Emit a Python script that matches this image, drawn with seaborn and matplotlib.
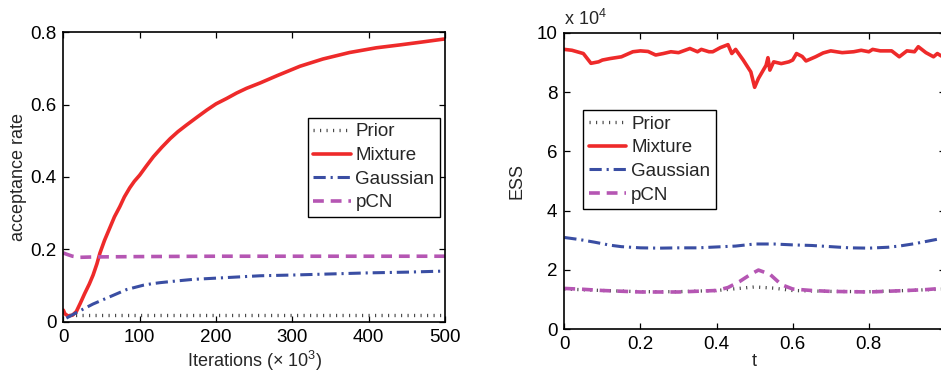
import numpy as np
import pandas as pd
import matplotlib
matplotlib.use("Agg")
import matplotlib.pyplot as plt
import seaborn as sns

# ---------------- data: left panel (acceptance rate) ----------------
iters_mix = [0, 2, 6, 12, 17, 22, 28, 34, 39, 44, 48, 54, 61, 67, 74, 80, 87, 93, 100, 109, 118, 129, 140,
             150, 161, 175, 188, 200, 214, 227, 240, 258, 280, 310, 340, 375, 410, 441, 470, 498, 500]
acc_mix = [0.032, 0.022, 0.016, 0.018, 0.028, 0.05, 0.078, 0.104, 0.129, 0.16, 0.19, 0.225, 0.26, 0.29, 0.318,
           0.345, 0.37, 0.388, 0.405, 0.431, 0.456, 0.482, 0.506, 0.525, 0.543, 0.565, 0.585, 0.602, 0.617,
           0.632, 0.645, 0.66, 0.68, 0.706, 0.726, 0.744, 0.757, 0.765, 0.773, 0.781, 0.781]

iters_gau = [4, 17, 28, 39, 50, 61, 72, 83, 94, 105, 116, 127, 150, 170, 214, 258, 300, 350, 400, 450, 500]
acc_gau = [0.01, 0.025, 0.037, 0.049, 0.059, 0.069, 0.079, 0.089, 0.095, 0.101, 0.105, 0.108, 0.113, 0.117,
           0.122, 0.127, 0.129, 0.132, 0.135, 0.137, 0.14]

iters_pcn = [0, 5, 12, 22, 40, 100, 200, 300, 400, 500]
acc_pcn = [0.19, 0.186, 0.181, 0.178, 0.179, 0.18, 0.181, 0.181, 0.181, 0.181]

iters_pri = [8, 100, 200, 300, 400, 500]
acc_pri = [0.018, 0.018, 0.018, 0.018, 0.018, 0.018]

# ---------------- data: right panel (ESS, x 10^4) ----------------
t_mix = [0.0, 0.02, 0.05, 0.07, 0.09, 0.10, 0.12, 0.15, 0.18, 0.20, 0.22, 0.24, 0.26, 0.28, 0.30,
         0.33, 0.35, 0.36, 0.38, 0.39, 0.41, 0.43, 0.44, 0.45, 0.47, 0.49, 0.50, 0.51, 0.53, 0.535,
         0.54, 0.55, 0.57, 0.59, 0.60, 0.61, 0.625, 0.635, 0.66, 0.68, 0.70, 0.73, 0.76, 0.78, 0.80,
         0.81, 0.83, 0.86, 0.88, 0.90, 0.92, 0.93, 0.95, 0.97, 0.98, 0.99, 1.0]
ess_mix = [9.44, 9.41, 9.30, 8.97, 9.02, 9.08, 9.13, 9.19, 9.36, 9.39, 9.37, 9.25, 9.30, 9.36, 9.33,
           9.47, 9.36, 9.44, 9.36, 9.36, 9.50, 9.60, 9.30, 9.44, 9.08, 8.68, 8.16, 8.46, 8.90, 9.16,
           8.74, 9.02, 8.96, 9.02, 9.08, 9.30, 9.20, 9.05, 9.19, 9.32, 9.39, 9.33, 9.36, 9.41, 9.36,
           9.44, 9.39, 9.39, 9.19, 9.39, 9.36, 9.53, 9.33, 9.19, 9.30, 9.22, 9.25]

t_gau = [0.0, 0.04, 0.08, 0.12, 0.15, 0.20, 0.25, 0.30, 0.35, 0.40, 0.45, 0.50, 0.55, 0.60, 0.65, 0.70, 0.75, 0.80, 0.85, 0.88, 0.92, 0.96, 1.0]
ess_gau = [3.09, 3.02, 2.93, 2.83, 2.78, 2.74, 2.73, 2.74, 2.74, 2.77, 2.80, 2.87, 2.87, 2.84, 2.82, 2.78, 2.74, 2.73, 2.76, 2.80, 2.88, 2.98, 3.08]

t_pcn = [0.0, 0.05, 0.10, 0.20, 0.30, 0.40, 0.43, 0.46, 0.49, 0.51, 0.54, 0.57, 0.60, 0.65, 0.70, 0.80, 0.90, 0.95, 1.0]
ess_pcn = [1.37, 1.34, 1.30, 1.25, 1.25, 1.30, 1.40, 1.60, 1.85, 1.99, 1.85, 1.50, 1.35, 1.30, 1.27, 1.25, 1.30, 1.33, 1.38]

t_pri = [0.0, 0.1, 0.2, 0.3, 0.4, 0.45, 0.5, 0.55, 0.6, 0.7, 0.8, 0.9, 1.0]
ess_pri = [1.35, 1.30, 1.26, 1.26, 1.30, 1.36, 1.42, 1.38, 1.30, 1.27, 1.26, 1.30, 1.35]

labels = ["Prior", "Mixture", "Gaussian", "pCN"]
colors = {"Prior": "#4a4a4a", "Mixture": "#ee2a2a", "Gaussian": "#3a4ea3", "pCN": "#b556b3"}
styles = {"Prior": (0, (0.35, 1.6)), "Mixture": "-", "Gaussian": (0, (4, 1.6, 0.7, 1.6)), "pCN": (0, (3.0, 1.9))}
widths = {"Prior": 2.4, "Mixture": 2.6, "Gaussian": 2.2, "pCN": 2.6}

sns.set_style("white")
plt.rcParams["font.family"] = ["Liberation Sans", "DejaVu Sans"]
plt.rcParams["mathtext.fontset"] = "custom"
plt.rcParams["mathtext.rm"] = "Liberation Sans"

fig = plt.figure(figsize=(9.41, 3.74), dpi=100)
ax1 = fig.add_axes([0.0673, 0.1398, 0.4056, 0.774])
ax2 = fig.add_axes([0.5997, 0.1203, 0.4045, 0.792])

left = {
    "Prior": (iters_pri, acc_pri),
    "Mixture": (iters_mix, acc_mix),
    "Gaussian": (iters_gau, acc_gau),
    "pCN": (iters_pcn, acc_pcn),
}
right = {
    "Prior": (t_pri, ess_pri),
    "Mixture": (t_mix, ess_mix),
    "Gaussian": (t_gau, ess_gau),
    "pCN": (t_pcn, ess_pcn),
}

for ax, data in [(ax1, left), (ax2, right)]:
    for name in labels:
        x, y = data[name]
        df = pd.DataFrame({"x": x, "y": y})
        sns.lineplot(data=df, x="x", y="y", ax=ax, color=colors[name], linewidth=widths[name],
                     linestyle=styles[name], label=name, estimator=None, sort=False)

ax1.set_xlim(0, 500)
ax1.set_ylim(0, 0.8)
ax1.set_xticks([0, 100, 200, 300, 400, 500])
ax1.set_yticks([0, 0.2, 0.4, 0.6, 0.8])
ax1.set_yticklabels(["0", "0.2", "0.4", "0.6", "0.8"])
ax1.set_xlabel(r"Iterations ($\times$ 10$^3$)", fontsize=13, labelpad=2)
ax1.set_ylabel("acceptance rate", fontsize=13, labelpad=2)

ax2.set_xlim(0, 1)
ax2.set_ylim(0, 10)
ax2.set_xticks([0, 0.2, 0.4, 0.6, 0.8])
ax2.set_xticklabels(["0", "0.2", "0.4", "0.6", "0.8"])
ax2.set_yticks([0, 2, 4, 6, 8, 10])
ax2.set_xlabel("t", fontsize=13, labelpad=0)
ax2.set_ylabel("ESS", fontsize=13, labelpad=8)
ax2.text(0.0, 1.012, r"x 10$^4$", transform=ax2.transAxes, fontsize=13, ha="left", va="bottom")

for ax in (ax1, ax2):
    ax.tick_params(direction="in", top=True, right=True, bottom=True, left=True, length=4, width=0.9,
                   labelsize=13.5, pad=5, colors="black")
    for sp in ax.spines.values():
        sp.set_visible(True)
        sp.set_color("black")
        sp.set_linewidth(1.2)

leg_kw = dict(loc="upper left", fontsize=13.5, frameon=True, fancybox=False, edgecolor="black",
              framealpha=1, handlelength=2.0, handletextpad=0.25, borderpad=0.3,
              labelspacing=0.35, borderaxespad=0)
leg1 = ax1.legend(bbox_to_anchor=(0.64, 0.705), **leg_kw)
leg1.get_frame().set_linewidth(1.0)
leg2 = ax2.legend(bbox_to_anchor=(0.05, 0.74), **leg_kw)
leg2.get_frame().set_linewidth(1.0)

fig.savefig("out.png", dpi=100)
